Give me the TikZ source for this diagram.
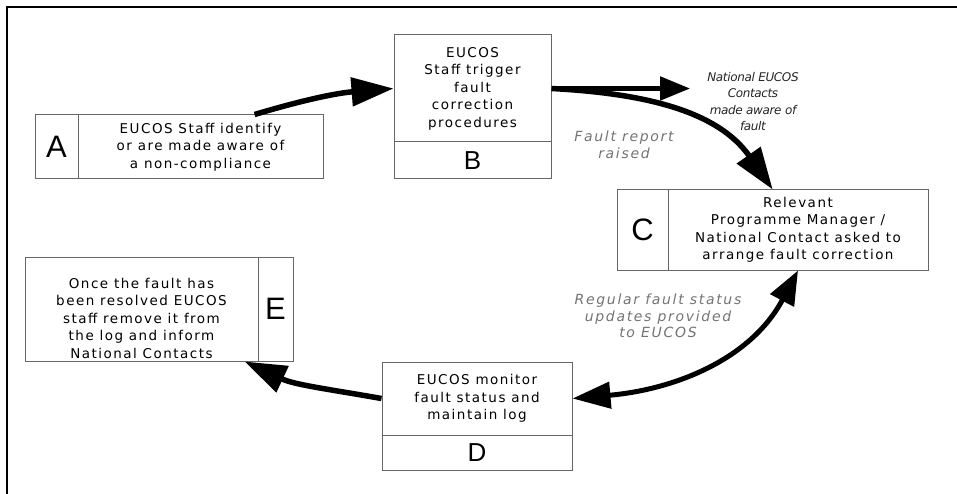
\documentclass[tikz,border=0pt]{standalone}
\usepackage{fontspec}
\setmainfont{DejaVu Sans}
\newfontfamily\boxfont{DejaVu Sans}[LetterSpace=11]
\newfontfamily\notefont{DejaVu Sans}[LetterSpace=12]
\newfontfamily\natfont{DejaVu Sans}[LetterSpace=-3]
\newfontfamily\letterfont{Liberation Sans}
\usetikzlibrary{arrows.meta}
\tikzset{
  cell/.style={draw=black!60, line width=1pt, inner sep=0pt, align=center,
    font=\boxfont\fontsize{13.5}{17.5}\selectfont},
  letter/.style={cell, font=\letterfont\fontsize{31}{31}\selectfont},
  note/.style={align=center, text=black!55, font=\notefont\itshape\fontsize{14}{16.5}\selectfont},
  flow/.style={line width=5.5pt, -{Triangle[length=42pt,width=28pt]}},
  bothflow/.style={line width=5pt, {Triangle[length=38pt,width=26pt]}-{Triangle[length=34pt,width=26pt]}}
}
\begin{document}
\begin{tikzpicture}[x=1pt,y=-1pt]
  \useasboundingbox (0,0) rectangle (957,494);
  \draw [line width=2pt] (7,494) -- (7,7) -- (957,7);% Draw frame

  % Box A
  \node [letter, minimum width=43, minimum height=64] (A-letter) at (56.5,147) {A};
  \node [cell, minimum width=245, minimum height=64] (A-text) at (200.5,147)
    {EUCOS Staff identify\\or are made aware of\\a non-compliance};

  % Box B
  \node [cell, minimum width=157, minimum height=107] (B-top) at (472.5,88.5)
    {EUCOS\\Staff trigger\\fault\\correction\\procedures};
  \node [letter, minimum width=157, minimum height=37, font=\letterfont\fontsize{26}{26}\selectfont] (B-letter) at (472.5,160.5) {B};

  % Box C
  \node [letter, minimum width=51, minimum height=80] (C-letter) at (642.5,230) {C};
  \node [cell, minimum width=260, minimum height=80] (C-text) at (798,230)
    {Relevant\\Programme Manager /\\National Contact asked to\\arrange fault correction};

  % Box D
  \node [cell, minimum width=190, minimum height=73] (D-top) at (477,398.5)
    {EUCOS monitor\\fault status and\\maintain log};
  \node [letter, minimum width=190, minimum height=35, font=\letterfont\fontsize{26}{26}\selectfont] (D-letter) at (477,452.5) {D};

  % Box E
  \node [cell, minimum width=233, minimum height=104,
    label={[cell, draw=none, yshift=-9pt]center:{Once the fault has\\been resolved EUCOS\\staff remove it from\\the log and inform\\National Contacts}}] (E-text) at (141.5,309) {};
  \node [letter, minimum width=35, minimum height=104] (E-letter) at (275.5,309) {E};

  % Notes
  \node [note, text=black!85, inner sep=17pt, font=\natfont\itshape\fontsize{12}{16.3}\selectfont] (nat) at (753,101.5)
    {National EUCOS\\Contacts\\made aware of\\fault};
  \node [note] (report) at (624,145) {Fault report\\raised};
  \node [note] (updates) at (658,316) {Regular fault status\\updates provided\\to EUCOS};

  % Arrows
  \draw [flow] (A-text.31) to[bend left=6] (B-top.west);% A to B
  \draw [line width=5pt, -{Triangle[length=30pt,width=23pt]}] (B-top.east) -- (B-top.east -| nat.west);% B to contacts
  \draw [flow] (B-top.east) to[out=-3, in=125] (C-text.122);% B to C
  \draw [bothflow] (D-top.east) to[out=5, in=-118] (C-text.south);% C and D
  \draw [flow] (D-top.west) to[out=170, in=-25] (E-text.-27);% D to E
\end{tikzpicture}
\end{document}
